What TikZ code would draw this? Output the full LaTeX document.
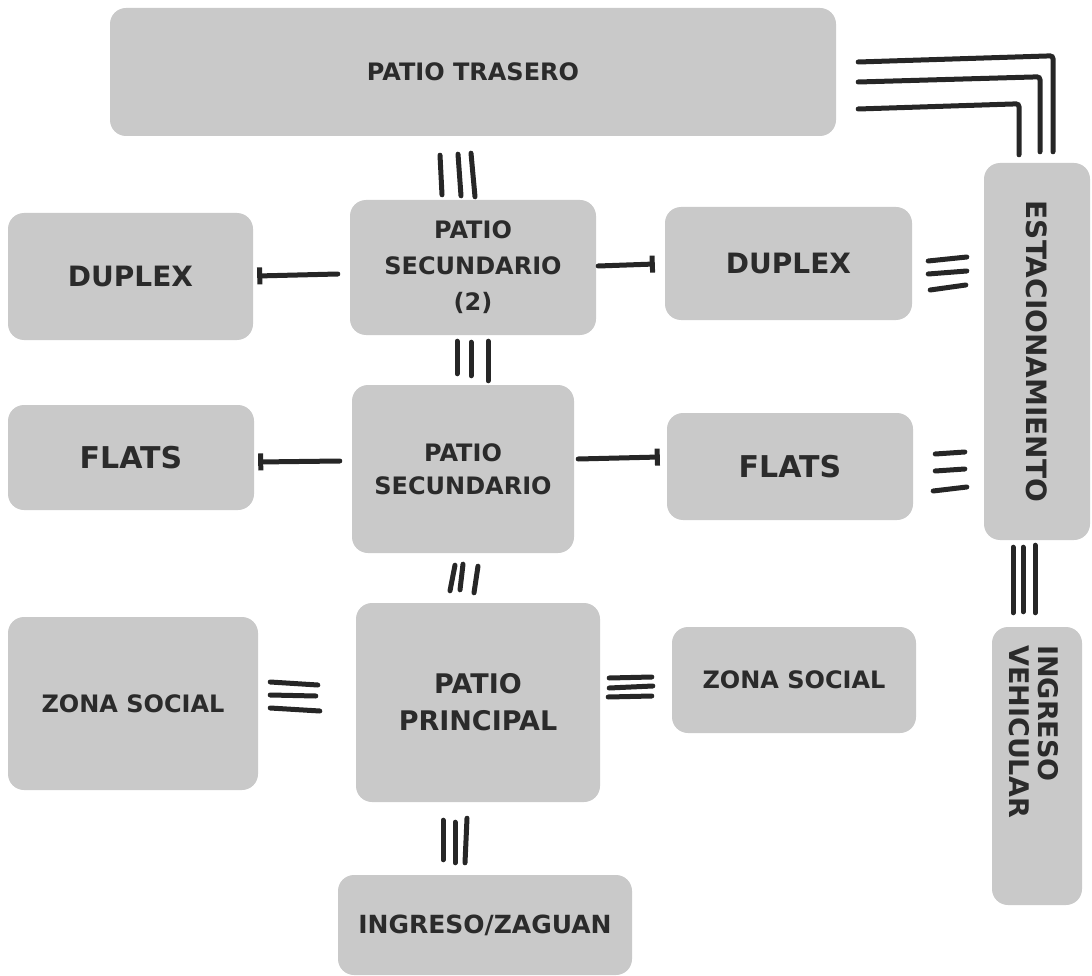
\documentclass[tikz,border=0pt]{standalone}
\usepackage{fontspec}
\setmainfont{DejaVu Sans}
\usetikzlibrary{arrows.meta,calc}
\definecolor{boxgray}{HTML}{C9C9C9}
\definecolor{ink}{HTML}{262626}
\definecolor{txtc}{HTML}{2B2B2B}
\begin{document}
\begin{tikzpicture}[x=1pt,y=-1pt,
  box/.style={fill=boxgray, rounded corners=16pt, inner sep=0pt, text=txtc,
    font=\bfseries\fontsize{24}{36}\selectfont, align=center},
  vtxt/.style={text=txtc, font=\bfseries\fontsize{28}{29}\selectfont, rotate=-90, inner sep=0pt},
  link/.style={draw=ink, line width=5pt, line cap=round},
  arr/.style={link, -{Bar[width=17pt]}}]
\useasboundingbox (0,0) rectangle (1092,976);

% boxes
\node[box, minimum width=726, minimum height=128] (trasero) at (473,72) {PATIO TRASERO};
\node[box, minimum width=245, minimum height=127, font=\bfseries\fontsize{28}{36}\selectfont] (dupL) at (130.5,276.5) {DUPLEX};
\node[box, minimum width=246, minimum height=135] (sec2) at (473,267.5) {PATIO\\SECUNDARIO\\(2)};
\node[box, minimum width=247, minimum height=113, font=\bfseries\fontsize{28}{36}\selectfont] (dupR) at (788.5,263.5) {DUPLEX};
\node[box, minimum width=106, minimum height=377] (est) at (1037,351.5) {};
\node[vtxt] (esttxt) at (est.center) {ESTACIONAMIENTO};
\node[box, minimum width=246, minimum height=105, font=\bfseries\fontsize{30}{36}\selectfont] (flatsL) at (131,457.5) {FLATS};
\node[box, minimum width=222, minimum height=168, font=\bfseries\fontsize{24}{33}\selectfont] (sec) at (463,469) {PATIO\\SECUNDARIO};
\node[box, minimum width=246, minimum height=107, font=\bfseries\fontsize{30}{36}\selectfont] (flatsR) at (790,466.5) {FLATS};
\node[box, minimum width=250, minimum height=173] (zonaL) at (133,703.5) {ZONA SOCIAL};
\node[box, minimum width=244, minimum height=199, font=\bfseries\fontsize{27}{37}\selectfont] (principal) at (478,702.5) {PATIO\\PRINCIPAL};
\node[box, minimum width=244, minimum height=106] (zonaR) at (794,680) {ZONA SOCIAL};
\node[box, minimum width=90, minimum height=278] (ingveh) at (1037,766) {};
\node[vtxt, anchor=west, align=left, font=\bfseries\fontsize{27}{29}\selectfont] (ingvehtxt) at (1034,645) {INGRESO\\VEHICULAR};
\node[box, minimum width=294, minimum height=100, font=\bfseries\fontsize{25}{36}\selectfont] (zaguan) at (485,925) {INGRESO/ZAGUAN};

% trasero -> sec2
\draw[link] ($(trasero.south)+(-33,19)$) -- ($(sec2.north)+(-31,-5)$);
\draw[link] ($(trasero.south)+(-15,18)$) -- ($(sec2.north)+(-12,-4)$);
\draw[link] ($(trasero.south)+(-2,17)$) -- ($(sec2.north)+(2,-3)$);
% sec2 -> sec
\draw[link] ($(sec2.south)+(-16,6)$) -- ($(sec.north)+(-6,-11)$);
\draw[link] ($(sec2.south)+(-2,7)$) -- ($(sec.north)+(8,-9)$);
\draw[link] ($(sec2.south)+(15,6)$) -- ($(sec.north)+(25,-4)$);
% sec -> principal
\draw[link] ($(sec.south)+(-8,12)$) -- ($(principal.north)+(-28,-12)$);
\draw[link] ($(sec.south)+(0,11)$) -- ($(principal.north)+(-18,-13)$);
\draw[link] ($(sec.south)+(15,13)$) -- ($(principal.north)+(-4,-10)$);
% principal -> zaguan
\draw[link] ($(principal.south)+(-35,18)$) -- ($(zaguan.north)+(-42,-15)$);
\draw[link] ($(principal.south)+(-23,20)$) -- ($(zaguan.north)+(-30,-12)$);
\draw[link] ($(principal.south)+(-11,16)$) -- ($(zaguan.north)+(-20,-12)$);
% dupR -> est
\draw[link] ($(dupR.east)+(16,-2.5)$) -- ($(est.west)+(-17,-94.5)$);
\draw[link] ($(dupR.east)+(16,10.5)$) -- ($(est.west)+(-17,-80.5)$);
\draw[link] ($(dupR.east)+(18,26.5)$) -- ($(est.west)+(-18,-66.5)$);
% flatsR -> est
\draw[link] ($(flatsR.east)+(22,-12.5)$) -- ($(est.west)+(-19,100.5)$);
\draw[link] ($(flatsR.east)+(22,4.5)$) -- ($(est.west)+(-19,117.5)$);
\draw[link] ($(flatsR.east)+(20,24.5)$) -- ($(est.west)+(-17,135.5)$);
% zonaL -> principal
\draw[link] ($(zonaL.east)+(12,-21.5)$) -- ($(principal.west)+(-38,-17.5)$);
\draw[link] ($(zonaL.east)+(12,-8.5)$) -- ($(principal.west)+(-40,-6.5)$);
\draw[link] ($(zonaL.east)+(12,4.5)$) -- ($(principal.west)+(-36,8.5)$);
% principal -> zonaR
\draw[link] ($(principal.east)+(9,-24.5)$) -- ($(zonaR.west)+(-20,-3)$);
\draw[link] ($(principal.east)+(9,-14.5)$) -- ($(zonaR.west)+(-19,6)$);
\draw[link] ($(principal.east)+(8,-5.5)$) -- ($(zonaR.west)+(-20,16)$);
% est -> ingveh
\draw[link] ($(est.south)+(-24,7)$) -- ($(ingveh.north)+(-24,-14)$);
\draw[link] ($(est.south)+(-14,7)$) -- ($(ingveh.north)+(-14,-15)$);
\draw[link] ($(est.south)+(-2,5)$) -- ($(ingveh.north)+(-2,-14)$);
% trasero -> est (L shapes)
\draw[link, rounded corners=3pt] ($(trasero.east)+(22,-10)$) -- ($(est.north)+(16,-107)$) -- ($(est.north)+(16,-11)$);
\draw[link, rounded corners=3pt] ($(trasero.east)+(22,10)$) -- ($(est.north)+(3,-86)$) -- ($(est.north)+(3,-11)$);
\draw[link, rounded corners=3pt] ($(trasero.east)+(22,37)$) -- ($(est.north)+(-18,-59)$) -- ($(est.north)+(-18,-8)$);

% arrows
\draw[arr] ($(sec2.west)+(-12,6.5)$) -- ($(dupL.east)+(4,-0.5)$);
\draw[arr] ($(sec2.east)+(2,-1.5)$) -- ($(dupR.west)+(-10,0.5)$);
\draw[arr] ($(sec.west)+(-12,-8)$) -- ($(flatsL.east)+(4,4.5)$);
\draw[arr] ($(sec.east)+(4,-10)$) -- ($(flatsR.west)+(-7,-9.5)$);
\end{tikzpicture}
\end{document}
